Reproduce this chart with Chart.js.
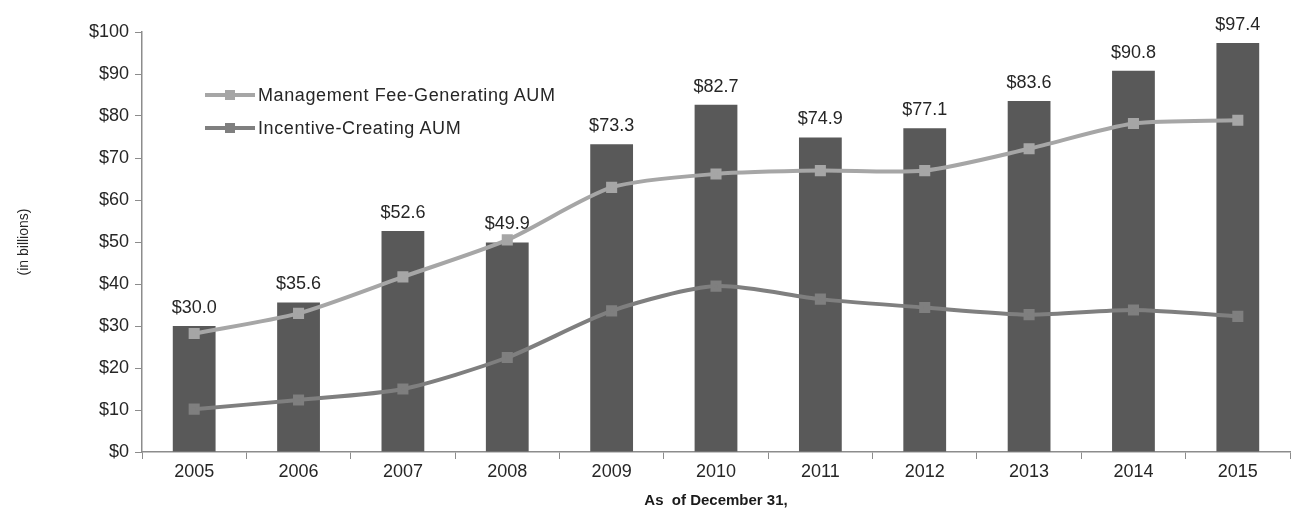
<!DOCTYPE html>
<html>
<head>
<meta charset="utf-8">
<script src="https://cdn.jsdelivr.net/npm/chart.js@4/dist/chart.umd.min.js"></script>
<style>
  body { margin: 0; background: #fff; }
  #wrap { position: relative; width: 1299px; height: 508px; }
  .leg { position: absolute; left: 205px; font: 18px "Liberation Sans", Arial, sans-serif; color: #262626; height: 20px; line-height: 20px; }
  .leg .ln { position: absolute; left: 0; top: 8px; width: 50px; height: 4px; }
  .leg .mk { position: absolute; left: 20px; top: 5px; width: 10px; height: 10px; }
  .leg span { position: absolute; left: 53px; white-space: nowrap; letter-spacing: 0.6px; }
</style>
</head>
<body>
<div id="wrap">
  <canvas id="chart" width="1299" height="508"></canvas>
  <div class="leg" style="top:85px"><div class="ln" style="background:#a6a6a6"></div><div class="mk" style="background:#a6a6a6"></div><span>Management Fee-Generating AUM</span></div>
  <div class="leg" style="top:118px"><div class="ln" style="background:#7f7f7f"></div><div class="mk" style="background:#7f7f7f"></div><span>Incentive-Creating AUM</span></div>
</div>
<script>
const years = ['2005', '2006', '2007', '2008', '2009', '2010', '2011', '2012', '2013', '2014', '2015'];
const totalAum = [30.0, 35.6, 52.6, 49.9, 73.3, 82.7, 74.9, 77.1, 83.6, 90.8, 97.4];
const mgmtFeeAum = [28.2, 33.0, 41.7, 50.5, 63.0, 66.2, 67.0, 67.0, 72.2, 78.2, 79.0];
const incentiveAum = [10.2, 12.4, 15.0, 22.5, 33.6, 39.5, 36.4, 34.4, 32.7, 33.8, 32.3];

const font = "'Liberation Sans', Arial, sans-serif";

// labels above each bar
const barLabels = {
  id: 'barLabels',
  afterDatasetsDraw(chart) {
    const ctx = chart.ctx;
    const meta = chart.getDatasetMeta(2);
    ctx.save();
    ctx.font = '18px ' + font;
    ctx.fillStyle = '#262626';
    ctx.textAlign = 'center';
    ctx.textBaseline = 'bottom';
    meta.data.forEach((bar, i) => {
      ctx.fillText('$' + totalAum[i].toFixed(1), bar.x, bar.y - 9);
    });
    ctx.restore();
  }
};

new Chart(document.getElementById('chart'), {
  data: {
    labels: years,
    datasets: [
      {
        type: 'line',
        label: 'Management Fee-Generating AUM',
        data: mgmtFeeAum,
        borderColor: '#a6a6a6',
        backgroundColor: '#a6a6a6',
        borderWidth: 4,
        pointStyle: 'rect',
        pointRadius: 5,
        tension: 0.25,
        order: 0
      },
      {
        type: 'line',
        label: 'Incentive-Creating AUM',
        data: incentiveAum,
        borderColor: '#7f7f7f',
        backgroundColor: '#7f7f7f',
        borderWidth: 4,
        pointStyle: 'rect',
        pointRadius: 5,
        tension: 0.25,
        order: 1
      },
      {
        type: 'bar',
        label: 'AUM',
        data: totalAum,
        backgroundColor: '#595959',
        categoryPercentage: 1,
        barPercentage: 0.41,
        order: 2
      }
    ]
  },
  options: {
    responsive: false,
    animation: false,
    layout: { padding: { top: 32, right: 9, left: 12, bottom: 0 } },
    plugins: { legend: { display: false }, tooltip: { enabled: false } },
    scales: {
      x: {
        offset: true,
        grid: { display: true, drawOnChartArea: false, offset: true, tickLength: 7, color: '#8c8c8c' },
        border: { color: '#8c8c8c', width: 1.5 },
        ticks: { color: '#262626', font: { family: font, size: 18 }, padding: 2 },
        title: { display: true, text: 'As  of December 31,', color: '#1a1a1a', font: { family: font, size: 15, weight: 'bold' }, padding: { top: 0, bottom: -2 } },
        afterFit(scale) { scale.height = 56; }
      },
      y: {
        min: 0,
        max: 100,
        ticks: { stepSize: 10, color: '#262626', font: { family: font, size: 18 }, padding: 6, callback: (v) => '$' + v },
        grid: { display: true, drawOnChartArea: false, tickLength: 7, color: '#8c8c8c' },
        border: { color: '#8c8c8c', width: 1.5 },
        title: { display: true, text: '(in billions)', color: '#262626', font: { family: font, size: 14 }, padding: { bottom: 30 } },
        afterFit(scale) { scale.width = 130; }
      }
    }
  },
  plugins: [barLabels]
});
</script>
</body>
</html>
